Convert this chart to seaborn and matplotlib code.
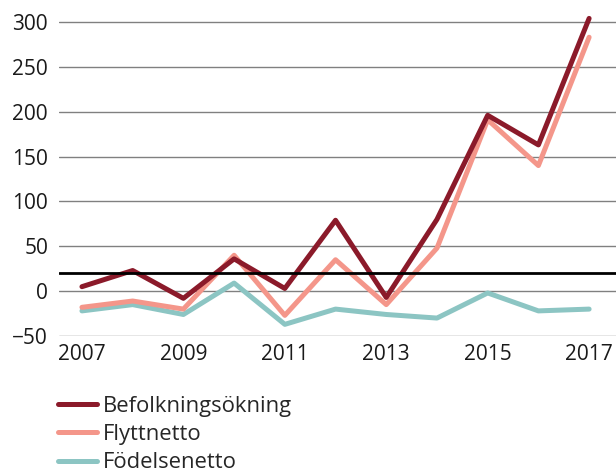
import numpy as np
import pandas as pd
import seaborn as sns
import matplotlib.pyplot as plt

years = [2007, 2008, 2009, 2010, 2011, 2012, 2013, 2014, 2015, 2016, 2017]
befolkningsokning = [5, 23, -8, 36, 3, 79, -7, 80, 196, 163, 304]
flyttnetto = [-18, -11, -20, 40, -27, 35, -15, 48, 191, 140, 283]
fodelsenetto = [-22, -15, -26, 9, -37, -20, -26, -30, -2, -22, -20]
series_names = ['Befolkningsökning', 'Flyttnetto', 'Födelsenetto']
yticks = [-50, 0, 50, 100, 150, 200, 250, 300]
xticks = [2007, 2009, 2011, 2013, 2015, 2017]
ref_level = 20

PALETTE = {'Befolkningsökning': '#8b1a2a', 'Flyttnetto': '#f4968a', 'Födelsenetto': '#8cc5c3'}

sns.set_theme(style='white')
plt.rcParams['font.family'] = ['Open Sans', 'DejaVu Sans']

df = pd.DataFrame({'År': years, series_names[0]: befolkningsokning,
                   series_names[1]: flyttnetto, series_names[2]: fodelsenetto})
df = pd.melt(df, id_vars=['År'], var_name='Serie', value_name='Värde')

fig = plt.figure(figsize=(6.16, 4.75), dpi=100)
# axes extends a bit above 300 so the 2017 peak isn't clipped
ax = fig.add_axes([0.096, 0.2926, 0.904, 0.68])

for y in yticks:
    ax.axhline(y, color='#808080', lw=1.0, zorder=0)

sns.lineplot(df, x='År', y='Värde', hue='Serie', hue_order=series_names[::-1],
             palette=PALETTE, lw=3.6, ax=ax, legend=False)
ax.axhline(ref_level, color='black', lw=2.0, zorder=5)

ax.set_xlim(2006.55, 2017.53)
ax.set_ylim(-50, 310)
ax.set_yticks(yticks)
ax.set_xticks(xticks)
ax.tick_params(axis='both', length=0, labelsize=15, colors='#1a1a1a')
ax.tick_params(axis='y', pad=8)
ax.tick_params(axis='x', pad=6)
ax.set_xlabel('')
ax.set_ylabel('')
for s in ax.spines.values():
    s.set_visible(False)

handles = [plt.Line2D([], [], color=PALETTE[n], lw=3.6, solid_capstyle='round') for n in series_names]
fig.legend(handles, series_names, loc='upper left', bbox_to_anchor=(0.094, 0.166),
           frameon=False, fontsize=15.8, handlelength=1.8, handletextpad=0.25,
           labelspacing=0.32, borderaxespad=0, borderpad=0)

fig.savefig('out.png', dpi=100)
